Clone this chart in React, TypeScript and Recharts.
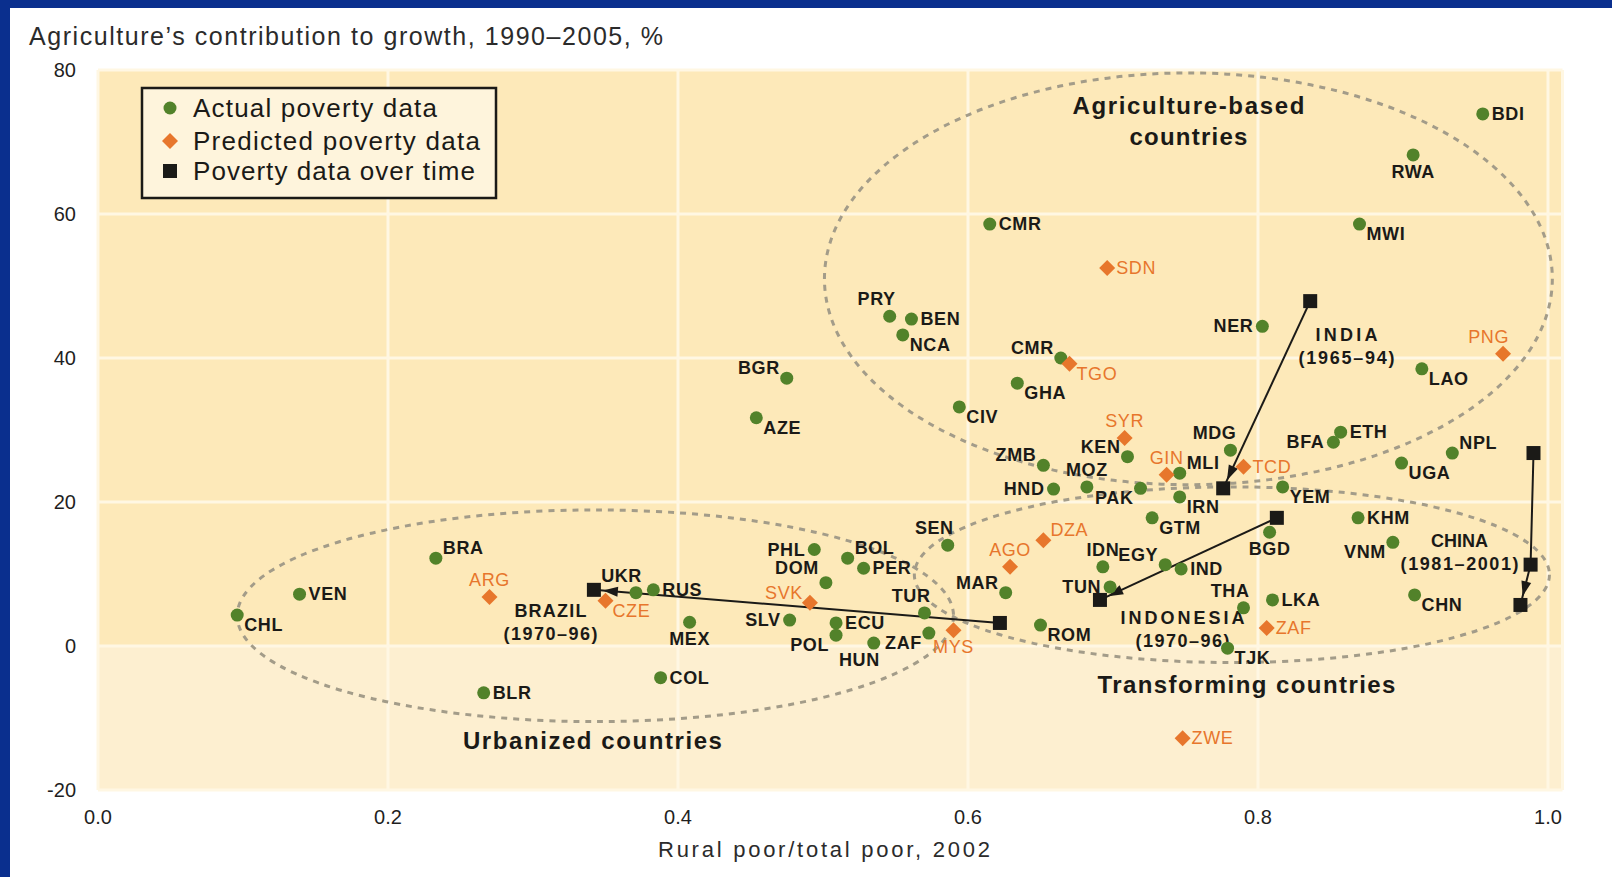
import React from "react";
import { ScatterChart, Scatter, XAxis, YAxis, CartesianGrid } from "recharts";

type Point = [string, number, number];

// Actual poverty data (green dots): [country, rural poor share, ag contribution %]
const actualPoverty: Point[] = [
  ["BDI", 0.955, 73.9],
  ["RWA", 0.907, 68.2],
  ["MWI", 0.87, 58.6],
  ["CMR", 0.615, 58.6],
  ["PRY", 0.546, 45.8],
  ["BEN", 0.561, 45.4],
  ["NCA", 0.555, 43.2],
  ["NER", 0.803, 44.4],
  ["CMR", 0.664, 40.0],
  ["LAO", 0.913, 38.5],
  ["BGR", 0.475, 37.2],
  ["AZE", 0.454, 31.7],
  ["GHA", 0.634, 36.5],
  ["CIV", 0.594, 33.2],
  ["MDG", 0.781, 27.2],
  ["ETH", 0.857, 29.7],
  ["BFA", 0.852, 28.3],
  ["NPL", 0.934, 26.8],
  ["UGA", 0.899, 25.4],
  ["KEN", 0.71, 26.3],
  ["ZMB", 0.652, 25.1],
  ["MOZ", 0.682, 22.1],
  ["MLI", 0.746, 24.0],
  ["HND", 0.659, 21.8],
  ["PAK", 0.719, 21.9],
  ["IRN", 0.746, 20.7],
  ["YEM", 0.817, 22.1],
  ["GTM", 0.727, 17.8],
  ["KHM", 0.869, 17.8],
  ["BGD", 0.808, 15.8],
  ["VNM", 0.893, 14.4],
  ["SEN", 0.586, 14.0],
  ["IDN", 0.693, 11.0],
  ["EGY", 0.736, 11.3],
  ["IND", 0.747, 10.7],
  ["TUN", 0.698, 8.2],
  ["MAR", 0.626, 7.4],
  ["PHL", 0.494, 13.4],
  ["BOL", 0.517, 12.2],
  ["PER", 0.528, 10.8],
  ["DOM", 0.502, 8.8],
  ["TUR", 0.57, 4.6],
  ["ZAF", 0.573, 1.8],
  ["ECU", 0.509, 3.2],
  ["POL", 0.509, 1.5],
  ["HUN", 0.535, 0.4],
  ["SLV", 0.477, 3.6],
  ["MEX", 0.408, 3.3],
  ["COL", 0.388, -4.4],
  ["RUS", 0.383, 7.8],
  ["UKR", 0.371, 7.4],
  ["BRA", 0.233, 12.2],
  ["VEN", 0.139, 7.2],
  ["CHL", 0.096, 4.3],
  ["BLR", 0.266, -6.5],
  ["ROM", 0.65, 2.9],
  ["THA", 0.79, 5.3],
  ["LKA", 0.81, 6.4],
  ["TJK", 0.779, -0.3],
  ["CHN", 0.908, 7.1],
];
const actualLabelSides = [
  "r", "b", "rb", "r", "al", "r", "rb", "l", "la", "rb",
  "la", "rb", "rb", "rb", "al", "r", "l", "ra", "rb", "la",
  "la", "a", "ra", "l", "lb", "rb", "rb", "rb", "r", "b",
  "lb", "al", "a", "la", "r", "l", "la", "l", "ra", "r",
  "la2", "al", "lb", "r", "lb", "bl", "l", "b", "r", "r",
  "al", "ra", "r", "rb", "r", "rb", "al", "r", "rb", "rb",
];

// Predicted poverty data (orange diamonds)
const predictedPoverty: Point[] = [
  ["SDN", 0.696, 52.5],
  ["TGO", 0.67, 39.2],
  ["PNG", 0.969, 40.6],
  ["SYR", 0.708, 28.9],
  ["GIN", 0.737, 23.8],
  ["TCD", 0.79, 24.9],
  ["DZA", 0.652, 14.7],
  ["AGO", 0.629, 11.0],
  ["SVK", 0.491, 6.0],
  ["MYS", 0.59, 2.2],
  ["CZE", 0.35, 6.3],
  ["ARG", 0.27, 6.8],
  ["ZAF", 0.806, 2.5],
  ["ZWE", 0.748, -12.8],
];
const predictedLabelSides = [
  "r", "rb", "al", "a", "a", "r", "ra", "a", "la", "b", "rb", "a", "r", "r",
];

// Poverty data over time (black squares, arrow toward latest year)
const brazilOverTime: Point[] = [["1970", 0.622, 3.2], ["1996", 0.342, 7.8]];
const indiaOverTime: Point[] = [["1965", 0.836, 47.9], ["1994", 0.776, 21.9]];
const indonesiaOverTime: Point[] = [["1970", 0.813, 17.8], ["1996", 0.691, 6.4]];
const chinaOverTime: Point[] = [["1981", 0.99, 26.8], ["1991", 0.988, 11.3], ["2001", 0.981, 5.7]];

const pathLabels: Point[] = [
  ["BRAZIL", 0.312, 4.9],
  ["(1970–96)", 0.312, 1.7],
  ["INDIA", 0.861, 43.3],
  ["(1965–94)", 0.861, 40.0],
  ["INDONESIA", 0.748, 4.0],
  ["(1970–96)", 0.748, 0.8],
  ["CHINA", 0.939, 14.7],
  ["(1981–2001)", 0.939, 11.5],
];

const groupLabels: Point[] = [
  ["Agriculture-based", 0.752, 75.1],
  ["countries", 0.752, 70.8],
  ["Urbanized countries", 0.341, -13.1],
  ["Transforming countries", 0.792, -5.3],
];
// dashed outlines: [name, centre x, centre y, half-width, half-height]
const groupOutlines: [string, number, number, number, number][] = [
  ["agriculture", 0.752, 51.0, 0.251, 28.6],
  ["urbanized", 0.343, 4.2, 0.247, 14.7],
  ["transforming", 0.782, 9.9, 0.219, 12.2],
];

const xTicks = [0, 0.2, 0.4, 0.6, 0.8, 1.0];
const yTicks = [-20, 0, 20, 40, 60, 80];

const W = 1612;
const H = 877;
const MARGIN = { top: 70, right: 49.5, bottom: 57, left: 38 };
const Y_AXIS_W = 60;
const X_AXIS_H = 30;
const X_DOMAIN: [number, number] = [0, 1.01];
const Y_DOMAIN: [number, number] = [-20, 80];
const PX_X = (W - MARGIN.left - Y_AXIS_W - MARGIN.right) / (X_DOMAIN[1] - X_DOMAIN[0]);
const PX_Y = (H - MARGIN.top - MARGIN.bottom - X_AXIS_H) / (Y_DOMAIN[1] - Y_DOMAIN[0]);

const FONT = "'Liberation Sans', Arial, sans-serif";
const GREEN = "#52822a";
const ORANGE = "#e7762c";
const DARK = "#1b1a17";

const SIDES: Record<string, [number, number, "start" | "middle" | "end"]> = {
  r: [9, 6, "start"],
  l: [-9, 6, "end"],
  a: [0, -11, "middle"],
  b: [0, 23, "middle"],
  ra: [7, -4, "start"],
  rb: [7, 16, "start"],
  la: [-7, -4, "end"],
  la2: [-7, -9, "end"],
  lb: [-7, 16, "end"],
  al: [6, -11, "end"],
  bl: [6, 23, "end"],
};

const toRows = (pts: Point[], sides?: string[]) =>
  pts.map(([name, x, y], i) => ({ name, x, y, i, side: sides ? sides[i] : "r" }));

const PointLabel = ({ cx, cy, name, side, color, weight }: any) => {
  const [dx, dy, anchor] = SIDES[side] || SIDES.r;
  return (
    <text
      x={cx + dx}
      y={cy + dy}
      textAnchor={anchor}
      fontFamily={FONT}
      fontSize={18}
      fontWeight={weight}
      letterSpacing={0.6}
      fill={color}
    >
      {name}
    </text>
  );
};

const actualShape = (p: any) => (
  <g>
    <circle cx={p.cx} cy={p.cy} r={6.5} fill={GREEN} />
    <PointLabel cx={p.cx} cy={p.cy} name={p.payload.name} side={p.payload.side} color={DARK} weight="bold" />
  </g>
);

const diamond = (cx: number, cy: number, s: number) =>
  `${cx},${cy - s} ${cx + s},${cy} ${cx},${cy + s} ${cx - s},${cy}`;

const predictedShape = (p: any) => (
  <g>
    <polygon points={diamond(p.cx, p.cy, 8)} fill={ORANGE} />
    <PointLabel cx={p.cx} cy={p.cy} name={p.payload.name} side={p.payload.side} color={ORANGE} weight="normal" />
  </g>
);

const trajectoryShape = (pts: Point[]) => (p: any) => {
  const { cx, cy } = p;
  const i = p.payload.i;
  let arrow = null;
  if (i === pts.length - 1 && i > 0) {
    const [, px, py] = pts[i - 1];
    const vx = (p.payload.x - px) * PX_X;
    const vy = -(p.payload.y - py) * PX_Y;
    const len = Math.hypot(vx, vy);
    const ux = vx / len;
    const uy = vy / len;
    const tx = cx - ux * 9;
    const ty = cy - uy * 9;
    const bx = tx - ux * 15;
    const by = ty - uy * 15;
    arrow = (
      <polygon
        points={`${tx},${ty} ${bx - uy * 5},${by + ux * 5} ${bx + uy * 5},${by - ux * 5}`}
        fill={DARK}
      />
    );
  }
  return (
    <g>
      <rect x={cx - 7} y={cy - 7} width={14} height={14} fill={DARK} />
      {arrow}
    </g>
  );
};

const outlineShape = (p: any) => (
  <ellipse
    cx={p.cx}
    cy={p.cy}
    rx={p.payload.rx * PX_X}
    ry={p.payload.ry * PX_Y}
    fill="none"
    stroke="#a39c89"
    strokeWidth={3}
    strokeDasharray="6 6"
  />
);

const textShape = (size: number, weight: string, widths: Record<string, number>) => (p: any) => (
  <text
    x={p.cx}
    y={p.cy + size * 0.36}
    textAnchor="middle"
    fontFamily={FONT}
    fontSize={size}
    fontWeight={weight}
    fill={DARK}
    textLength={widths[p.payload.name]}
    lengthAdjust="spacing"
  >
    {p.payload.name}
  </text>
);

const groupWidths: Record<string, number> = {
  "Agriculture-based": 232,
  countries: 118,
  "Urbanized countries": 259,
  "Transforming countries": 298,
};
const pathWidths: Record<string, number> = {
  BRAZIL: 72,
  "(1970–96)": 94,
  INDIA: 62,
  "(1965–94)": 96,
  INDONESIA: 124,
  "(1981–2001)": 118,
};

const YTick = (p: any) => (
  <text x={p.x - 22} y={p.y + 7} textAnchor="end" fontFamily={FONT} fontSize={20} fill="#1f1f1f">
    {p.payload.value}
  </text>
);
const XTick = (p: any) => (
  <text x={p.x} y={p.y + 34} textAnchor="middle" fontFamily={FONT} fontSize={20} fill="#1f1f1f">
    {Number(p.payload.value).toFixed(1)}
  </text>
);

const App: React.FC = () => {
  const outlineRows = groupOutlines.map(([name, x, y, rx, ry]) => ({ name, x, y, rx, ry }));
  return (
    <div style={{ position: "absolute", left: 0, top: 0, width: W, height: H, background: "#fff" }}>
      <ScatterChart width={W} height={H} margin={MARGIN}>
        <CartesianGrid
          stroke="none"
          horizontalFill={["#fde9b9", "#fde9b9", "#fde9b9", "#fde9b9", "#fdefd0", "#fde9b9"]}
          fillOpacity={1}
        />
        <CartesianGrid stroke="#fff7e3" strokeWidth={3} />
        <XAxis
          type="number"
          dataKey="x"
          domain={X_DOMAIN}
          ticks={xTicks}
          height={X_AXIS_H}
          axisLine={false}
          tickLine={false}
          tickSize={0}
          tickMargin={0}
          tick={XTick}
          allowDataOverflow
        />
        <YAxis
          type="number"
          dataKey="y"
          domain={Y_DOMAIN}
          ticks={yTicks}
          width={Y_AXIS_W}
          axisLine={false}
          tickLine={false}
          tickSize={0}
          tickMargin={0}
          tick={YTick}
          allowDataOverflow
        />
        <Scatter data={outlineRows} shape={outlineShape} isAnimationActive={false} />
        <Scatter data={toRows(groupLabels)} shape={textShape(24, "bold", groupWidths)} isAnimationActive={false} />
        <Scatter data={toRows(pathLabels)} shape={textShape(18, "bold", pathWidths)} isAnimationActive={false} />
        {[brazilOverTime, indiaOverTime, indonesiaOverTime, chinaOverTime].map((pts, k) => (
          <Scatter
            key={k}
            data={toRows(pts)}
            line={{ stroke: DARK, strokeWidth: 2 }}
            lineType="joint"
            shape={trajectoryShape(pts)}
            isAnimationActive={false}
          />
        ))}
        <Scatter data={toRows(actualPoverty, actualLabelSides)} shape={actualShape} isAnimationActive={false} />
        <Scatter data={toRows(predictedPoverty, predictedLabelSides)} shape={predictedShape} isAnimationActive={false} />
      </ScatterChart>

      <svg width={W} height={H} style={{ position: "absolute", left: 0, top: 0, pointerEvents: "none" }}>
        <rect x={0} y={0} width={W} height={8} fill="#0a2f8e" />
        <rect x={0} y={0} width={10} height={H} fill="#0a2f8e" />
        <text x={29} y={45} fontFamily={FONT} fontSize={25} fill="#2b2b2b" textLength={634} lengthAdjust="spacing">
          Agriculture’s contribution to growth, 1990–2005, %
        </text>
        <text x={824} y={857} textAnchor="middle" fontFamily={FONT} fontSize={22} fill="#2b2b2b" textLength={332} lengthAdjust="spacing">
          Rural poor/total poor, 2002
        </text>
        <rect x={142} y={88} width={354} height={110} fill="#fef4dc" stroke={DARK} strokeWidth={2.5} />
        <circle cx={170} cy={108} r={6.5} fill={GREEN} />
        <polygon points={diamond(170, 141, 8)} fill={ORANGE} />
        <rect x={163} y={164} width={14} height={14} fill={DARK} />
        <text x={193} y={117} fontFamily={FONT} fontSize={26} fill={DARK} textLength={244} lengthAdjust="spacing">
          Actual poverty data
        </text>
        <text x={193} y={150} fontFamily={FONT} fontSize={26} fill={DARK} textLength={287} lengthAdjust="spacing">
          Predicted poverty data
        </text>
        <text x={193} y={180} fontFamily={FONT} fontSize={26} fill={DARK} textLength={282} lengthAdjust="spacing">
          Poverty data over time
        </text>
      </svg>
    </div>
  );
};

export default App;
